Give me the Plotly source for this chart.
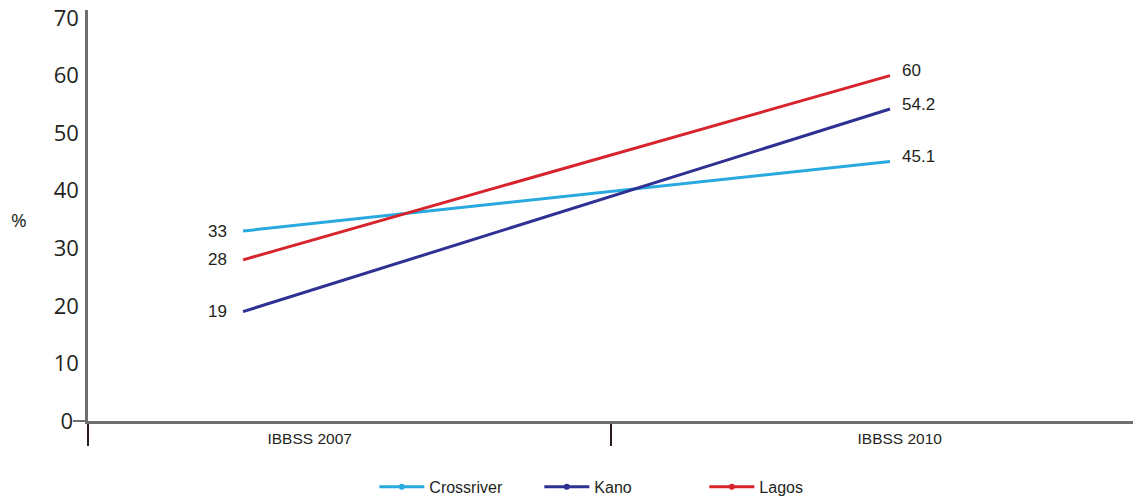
import plotly.graph_objects as go

categories = ["IBBSS 2007", "IBBSS 2010"]
series_names = ["Crossriver", "Kano", "Lagos"]
crossriver = [33, 45.1]
kano = [19, 54.2]
lagos = [28, 60]
y_ticks = [0, 10, 20, 30, 40, 50, 60, 70]
y_tick_text = ["0\u00a0"] + [str(v) for v in y_ticks[1:]]

colors = {"Crossriver": "#2AA9E0", "Kano": "#2E3192", "Lagos": "#D7232B"}
values = {"Crossriver": crossriver, "Kano": kano, "Lagos": lagos}

TXT_FONT = "Liberation Sans, Arial, sans-serif"
AX_FONT = "Open Sans, Noto Sans, sans-serif"
DARK = "#231F20"

x_pos = [0, 1]          # category positions on a linear axis
x_range = [-0.2396, 1.3756]
mid = 0.568

fig = go.Figure()
annotations = []
for name in series_names:
    vals = values[name]
    fig.add_trace(go.Scatter(
        x=x_pos, y=vals, mode="lines",
        line=dict(color=colors[name], width=3),
        showlegend=False, hoverinfo="skip",
    ))
    annotations.append(dict(x=x_pos[0], y=vals[0], xref="x", yref="y", text=str(vals[0]),
                            showarrow=False, xanchor="right", yanchor="middle", xshift=-14,
                            font=dict(family=TXT_FONT, size=17, color=DARK)))
    annotations.append(dict(x=x_pos[1], y=vals[1], xref="x", yref="y", text=str(vals[1]),
                            showarrow=False, xanchor="left", yanchor="middle", xshift=10, yshift=5,
                            font=dict(family=TXT_FONT, size=17, color=DARK)))
for name in series_names:
    fig.add_trace(go.Scatter(
        x=[None], y=[None], mode="lines+markers", name=name,
        line=dict(color=colors[name], width=3),
        marker=dict(color=colors[name], size=6),
    ))

annotations.append(dict(text="%", xref="paper", yref="paper", x=-0.0756, y=0.49,
                        showarrow=False, font=dict(family=AX_FONT, size=19, color=DARK)))

fig.update_layout(
    width=1133, height=501,
    margin=dict(l=88, r=0, t=10, b=80, autoexpand=False),
    paper_bgcolor="white", plot_bgcolor="white",
    legend=dict(orientation="h", x=0.274, xanchor="left", y=-0.16, yanchor="middle",
                font=dict(family=TXT_FONT, size=16, color=DARK),
                entrywidth=105, entrywidthmode="pixels", itemwidth=45),
    xaxis=dict(
        range=x_range, showgrid=False, zeroline=False,
        showline=True, linecolor="#6E6E6E", linewidth=2.5,
        tickmode="array", tickvals=[0.103, 1.015], ticktext=categories,
        ticks="", ticklabelstandoff=2,
        tickfont=dict(family=TXT_FONT, size=15.5, color=DARK),
        minor=dict(tickmode="array", tickvals=[x_range[0], mid], ticks="outside",
                   ticklen=22, tickwidth=2, tickcolor="#2B1A1E"),
    ),
    yaxis=dict(
        range=[0, 71.4], showgrid=False, zeroline=False,
        showline=True, linecolor="#6E6E6E", linewidth=2.5,
        tickmode="array", tickvals=y_ticks, ticktext=y_tick_text, ticks="", ticklabelstandoff=2,
        tickfont=dict(family=AX_FONT, size=22, color=DARK),
        minor=dict(tickmode="array", tickvals=[0], ticks="outside",
                   ticklen=12, tickwidth=2, tickcolor="#6E6E6E"),
    ),
    annotations=annotations,
)

fig.write_html("out.html", config={"displayModeBar": False},
               post_script="document.body.style.margin='0';")
